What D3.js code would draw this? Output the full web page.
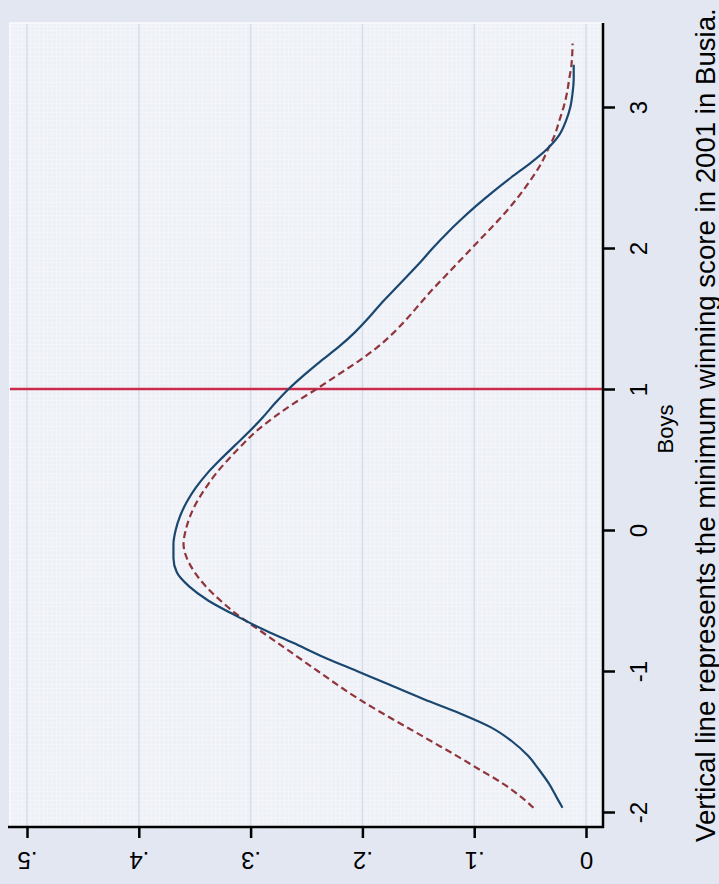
<!DOCTYPE html>
<html>
<head>
<meta charset="utf-8">
<script src="https://cdn.jsdelivr.net/npm/d3@7"></script>
<style>
  body { margin: 0; background: #e2e7f1; }
  svg { display: block; font-family: "Liberation Sans", Arial, sans-serif; }
</style>
</head>
<body>
<div id="chart"></div>
<script>
// boys score (vertical on screen) and density (horizontal, reversed)
var boysBlue = [-1.97,-1.9,-1.8,-1.7,-1.6,-1.5,-1.4,-1.3,-1.2,-1.1,-1.0,-0.9,-0.8,-0.7,-0.6,-0.5,-0.4,-0.3,-0.2,-0.1,0.0,0.1,0.2,0.3,0.4,0.5,0.6,0.7,0.8,0.9,1.0,1.1,1.2,1.3,1.4,1.5,1.6,1.7,1.8,1.9,2.0,2.1,2.2,2.3,2.4,2.5,2.6,2.7,2.8,2.9,3.0,3.1,3.2,3.3]
var densBlue = [.021,.026,.033,.042,.052,.066,.085,.113,.145,.175,.205,.235,.262,.29,.315,.338,.355,.366,.369,.369,.367,.363,.357,.349,.339,.327,.314,.301,.289,.278,.266,.252,.237,.221,.207,.195,.184,.172,.16,.148,.137,.125,.112,.098,.083,.067,.05,.035,.024,.018,.014,.012,.011,.011]
var boysRed = [-1.97,-1.9,-1.8,-1.7,-1.6,-1.5,-1.4,-1.3,-1.2,-1.1,-1.0,-0.9,-0.8,-0.7,-0.6,-0.5,-0.4,-0.3,-0.2,-0.1,0.0,0.1,0.2,0.3,0.4,0.5,0.6,0.7,0.8,0.9,1.0,1.1,1.2,1.3,1.4,1.5,1.6,1.7,1.8,1.9,2.0,2.1,2.2,2.3,2.4,2.5,2.6,2.7,2.8,2.9,3.0,3.1,3.2,3.3,3.45]
var densRed = [.047,.057,.074,.095,.116,.138,.16,.182,.203,.222,.24,.258,.276,.294,.312,.327,.34,.35,.357,.36,.358,.354,.348,.34,.331,.32,.308,.295,.279,.261,.241,.222,.203,.186,.172,.16,.149,.138,.126,.114,.102,.09,.078,.067,.057,.048,.04,.034,.028,.024,.02,.017,.015,.013,.012]
var boysTicks = [-2,-1,0,1,2,3]
var densTicks = [0,.1,.2,.3,.4,.5]
var cutoff = 1
var xTitle = 'Boys'
var caption = 'Vertical line represents the minimum winning score in 2001 in Busia.'

var W = 719, H = 884
var svg = d3.select('#chart').append('svg').attr('width',W).attr('height',H)
svg.append('rect').attr('width',W).attr('height',H).attr('fill','#e2e7f1')

// plot region
var pL = 10, pT = 23, pR = 603, pB = 827
var xD = d3.scaleLinear().domain([0,0.5]).range([586,27])
var yB = d3.scaleLinear().domain([-2,3]).range([812,107])

var defs = svg.append('defs')
var pat = defs.append('pattern').attr('id','fine').attr('width',4.3).attr('height',4.3).attr('patternUnits','userSpaceOnUse')
pat.append('rect').attr('width',4.3).attr('height',4.3).attr('fill','#edf0f6')
pat.append('path').attr('d','M0,0.5H4.3M0.5,0V4.3').attr('stroke','#f4f6fa').attr('stroke-width',1)

svg.append('rect').attr('x',pL).attr('y',pT).attr('width',pR-pL).attr('height',pB-pT)
.attr('fill','url(#fine)').attr('stroke','#fbfcfe').attr('stroke-width',1.5)

// major grid
svg.append('g').selectAll('line').data(densTicks).enter().append('line')
.attr('x1',function(d){return xD(d)}).attr('x2',function(d){return xD(d)})
.attr('y1',pT+1).attr('y2',pB)
.attr('stroke','#d5deeb').attr('stroke-width',1.5)

// cutoff line
svg.append('line').attr('x1',pL).attr('x2',pR).attr('y1',yB(cutoff)).attr('y2',yB(cutoff))
.attr('stroke','#cc2a4c').attr('stroke-width',2.5)

var line = d3.line().x(function(d){return xD(d[1])}).y(function(d){return yB(d[0])}).curve(d3.curveMonotoneY)
svg.append('path').datum(d3.zip(boysRed,densRed)).attr('d',line)
.attr('fill','none').attr('stroke','#90353b').attr('stroke-width',2.2).attr('stroke-dasharray','7,4')
svg.append('path').datum(d3.zip(boysBlue,densBlue)).attr('d',line)
.attr('fill','none').attr('stroke','#1a476f').attr('stroke-width',2.2)

// right axis (boys)
var ax = svg.append('g').attr('transform','translate('+pR+',0)')
.call(d3.axisRight(yB).tickValues(boysTicks).tickSize(12).tickSizeOuter(0)
.tickFormat(function(d){return String(d)}))
ax.select('.domain').remove()
ax.selectAll('.tick line').attr('stroke','#000').attr('stroke-width',2.5)
ax.selectAll('.tick text').attr('x',null).attr('dy',null)
.attr('transform','translate(35,0) rotate(-90)')
.attr('text-anchor','middle').attr('dominant-baseline','central')
.style('font-size','24px').attr('fill','#000')
svg.append('line').attr('x1',pR).attr('x2',pR).attr('y1',pT).attr('y2',pB+1)
.attr('stroke','#000').attr('stroke-width',2.5)

// bottom axis (density)
var bx = svg.append('g').attr('transform','translate(0,'+pB+')')
.call(d3.axisBottom(xD).tickValues(densTicks).tickSize(11).tickSizeOuter(0)
.tickFormat(function(d){return d===0 ? '0' : d3.format('.1f')(d).replace(/^0/,'')}))
bx.select('.domain').remove()
bx.selectAll('.tick line').attr('stroke','#000').attr('stroke-width',2.5)
bx.selectAll('.tick text').attr('y',null).attr('dy',null)
.attr('transform','translate(0,33) rotate(180)')
.attr('text-anchor','middle').attr('dominant-baseline','central')
.style('font-size','24px').attr('fill','#000')
svg.append('line').attr('x1',pL-2).attr('x2',pR+1).attr('y1',pB).attr('y2',pB)
.attr('stroke','#000').attr('stroke-width',2.5)

// titles
svg.append('text').attr('transform','translate(665,429) rotate(-90)')
.attr('text-anchor','middle').attr('dominant-baseline','central')
.style('font-size','22px').attr('fill','#000').text(xTitle)

var cap = svg.append('text').attr('transform','translate(705,842) rotate(-90)')
.attr('dominant-baseline','central').style('font-size','20px').attr('fill','#000').text(caption)
var len = cap.node().getComputedTextLength()
cap.style('font-size', (20*834/len).toFixed(2)+'px')
</script>
</body>
</html>
